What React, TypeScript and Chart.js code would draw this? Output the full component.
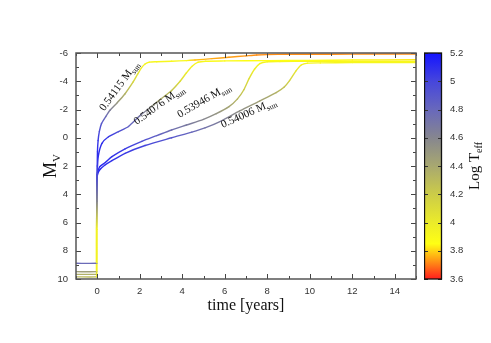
import React, { useEffect, useRef } from 'react';
import { Chart, registerables } from 'chart.js';
Chart.register(...registerables);

// ---- data: time [years], absolute magnitude M_V, log T_eff ----
// 0.54115 Msun
const c1Time = [-1, -0.03, -0.03, -0.03, -0.02, 0, 0.01, 0.04, 0.1, 0.2, 0.4, 0.6, 0.95, 1.3, 1.69, 1.9, 2.08, 2.25, 2.45, 2.8, 3.5, 4.2, 4.6, 5.4, 6.2, 7.0, 7.5, 8.5, 10, 12, 15];
const c1Mv = [8.89, 8.89, 8.85, 6.5, 4.5, 2.0, 1.0, 0.2, -0.45, -1.0, -1.5, -1.95, -2.5, -3.1, -3.95, -4.5, -4.95, -5.22, -5.35, -5.38, -5.42, -5.46, -5.5, -5.6, -5.7, -5.8, -5.86, -5.9, -5.91, -5.92, -5.93];
const c1Teff = [4.78, 4.78, 3.95, 3.95, 4.6, 5.05, 5.1, 5.05, 4.97, 4.9, 4.78, 4.65, 4.5, 4.35, 4.15, 4.05, 3.97, 3.93, 3.92, 3.92, 3.91, 3.9, 3.78, 3.75, 3.74, 3.73, 3.72, 3.72, 3.72, 3.72, 3.72];
// 0.54076 Msun
const c2Time = [-1, -0.03, -0.03, -0.03, -0.02, 0, 0.05, 0.22, 0.53, 1.0, 1.47, 2.0, 2.5, 3.0, 3.5, 3.9, 4.2, 4.45, 4.75, 5.1, 6, 8, 10, 12, 15];
const c2Mv = [9.48, 9.48, 9.44, 6.5, 4.5, 2.5, 1.3, 0.4, -0.07, -0.43, -0.8, -1.55, -2.15, -2.75, -3.35, -4.0, -4.6, -5.05, -5.35, -5.42, -5.44, -5.46, -5.48, -5.5, -5.53];
const c2Teff = [4.45, 4.45, 3.95, 3.95, 4.6, 5.05, 5.1, 5.1, 5.05, 4.95, 4.85, 4.7, 4.55, 4.4, 4.25, 4.1, 4.0, 3.95, 3.92, 3.9, 3.88, 3.86, 3.85, 3.84, 3.82];
// 0.53946 Msun
const c3Time = [-1, -0.03, -0.03, -0.03, -0.02, 0, 0.12, 0.38, 0.69, 1.31, 2.1, 2.8, 3.5, 4.2, 5.0, 5.6, 6.2, 6.6, 6.9, 7.15, 7.4, 7.65, 8.0, 8.6, 10, 12, 15];
const c3Mv = [9.67, 9.67, 9.63, 6.5, 4.5, 2.6, 2.05, 1.75, 1.34, 0.78, 0.25, -0.15, -0.55, -0.9, -1.3, -1.7, -2.2, -2.75, -3.4, -4.2, -4.85, -5.25, -5.38, -5.4, -5.41, -5.41, -5.42];
const c3Teff = [4.35, 4.35, 3.95, 3.95, 4.6, 5.1, 5.12, 5.1, 5.08, 5.05, 4.95, 4.85, 4.75, 4.68, 4.6, 4.52, 4.42, 4.32, 4.2, 4.08, 3.98, 3.93, 3.92, 3.91, 3.9, 3.9, 3.9];
// 0.54006 Msun
const c4Time = [-1, -0.03, -0.03, -0.03, -0.02, 0, 0.1, 0.35, 0.69, 1.31, 2.25, 3.5, 4.45, 5.07, 5.85, 6.7, 7.64, 8.42, 8.8, 9.05, 9.36, 9.6, 9.9, 10.5, 12, 15];
const c4Mv = [9.85, 9.85, 9.81, 6.5, 4.5, 2.7, 2.3, 1.95, 1.62, 1.1, 0.55, 0.0, -0.4, -0.7, -1.2, -1.9, -2.6, -3.2, -3.6, -4.05, -4.75, -5.15, -5.28, -5.3, -5.32, -5.33];
const c4Teff = [4.3, 4.3, 3.95, 3.95, 4.6, 5.1, 5.12, 5.1, 5.08, 5.05, 5.0, 4.9, 4.8, 4.72, 4.65, 4.55, 4.45, 4.35, 4.25, 4.15, 4.03, 3.96, 3.93, 3.92, 3.92, 3.92];

// curve labels (mass) with anchor in data coordinates and text angle
const labelMass = ['0.54115', '0.54076', '0.53946', '0.54006'];
const labelTime = [0.33, 1.86, 3.88, 5.9];
const labelMv = [-1.85, -0.9, -1.4, -0.69];
const labelAngle = [-54, -36, -30, -24];

// axes / ticks
const xMajorTicks = [0, 2, 4, 6, 8, 10, 12, 14];
const xMinorTicks = [-1, 1, 3, 5, 7, 9, 11, 13, 15];
const yMajorTicks = [-6, -4, -2, 0, 2, 4, 6, 8, 10];
const yMinorTicks = [-5, -3, -1, 1, 3, 5, 7, 9];
const cbTicks = [3.6, 3.8, 4.0, 4.2, 4.4, 4.6, 4.8, 5.0, 5.2];

// colour palette for log Teff
const palValues = [3.6, 3.74, 3.85, 4.0, 4.2, 4.4, 4.6, 4.8, 5.0, 5.2];
const palColors = ['#ff1e1e', '#ffa014', '#ffff14', '#ebeb2a', '#cccc48', '#a8a870', '#86868f', '#6868bc', '#4646dc', '#1414ff'];

function hexToRgb(h: string) {
  return [parseInt(h.slice(1, 3), 16), parseInt(h.slice(3, 5), 16), parseInt(h.slice(5, 7), 16)];
}
function teffColor(v: number) {
  if (v <= palValues[0]) return palColors[0];
  if (v >= palValues[palValues.length - 1]) return palColors[palColors.length - 1];
  let i = 0;
  while (v > palValues[i + 1]) i++;
  const f = (v - palValues[i]) / (palValues[i + 1] - palValues[i]);
  const a = hexToRgb(palColors[i]);
  const b = hexToRgb(palColors[i + 1]);
  const c = a.map((x, k) => Math.round(x + (b[k] - x) * f));
  return `rgb(${c[0]},${c[1]},${c[2]})`;
}

function segColor(teffs: number[]) {
  return (ctx: any) => {
    const a = teffs[ctx.p0DataIndex];
    const b = teffs[ctx.p1DataIndex];
    const p0 = ctx.p0;
    const p1 = ctx.p1;
    if (Math.abs(p0.x - p1.x) + Math.abs(p0.y - p1.y) < 0.5) return teffColor(b);
    const g = ctx.chart.ctx.createLinearGradient(p0.x, p0.y, p1.x, p1.y);
    g.addColorStop(0, teffColor(a));
    g.addColorStop(1, teffColor(b));
    return g;
  };
}

const SERIF = '"Liberation Serif", "Times New Roman", serif';
const SANS = '"Liberation Sans", Arial, sans-serif';

function drawSubText(ctx: CanvasRenderingContext2D, x: number, y: number, angle: number, main: string, sub: string, size: number, subSize: number, shift: number, center: boolean, color: string) {
  ctx.save();
  ctx.translate(x, y);
  ctx.rotate((angle * Math.PI) / 180);
  ctx.fillStyle = color;
  ctx.textBaseline = 'alphabetic';
  ctx.textAlign = 'left';
  ctx.font = `${size}px ${SERIF}`;
  const w1 = ctx.measureText(main).width;
  ctx.font = `${subSize}px ${SERIF}`;
  const w2 = ctx.measureText(sub).width;
  const x0 = center ? -(w1 + w2) / 2 : 0;
  ctx.font = `${size}px ${SERIF}`;
  ctx.fillText(main, x0, 0);
  ctx.font = `${subSize}px ${SERIF}`;
  ctx.fillText(sub, x0 + w1, shift);
  ctx.restore();
}

const mainDecor = {
  id: 'mainDecor',
  afterDraw(chart: any) {
    const { ctx, chartArea: a, scales } = chart;
    const x = scales.x;
    const y = scales.y;
    ctx.save();
    ctx.strokeStyle = '#444';
    ctx.lineWidth = 1;
    ctx.beginPath();
    const xt = (v: number, len: number) => {
      const px = Math.round(x.getPixelForValue(v)) + 0.5;
      ctx.moveTo(px, a.bottom); ctx.lineTo(px, a.bottom - len);
      ctx.moveTo(px, a.top); ctx.lineTo(px, a.top + len);
    };
    const yt = (v: number, len: number) => {
      const py = Math.round(y.getPixelForValue(v)) + 0.5;
      ctx.moveTo(a.left, py); ctx.lineTo(a.left + len, py);
      ctx.moveTo(a.right, py); ctx.lineTo(a.right - len, py);
    };
    xMajorTicks.forEach((v) => xt(v, 5));
    xMinorTicks.forEach((v) => xt(v, 3));
    yMajorTicks.forEach((v) => yt(v, 5));
    yMinorTicks.forEach((v) => yt(v, 3));
    ctx.stroke();
    ctx.lineWidth = 1.5;
    ctx.strokeStyle = '#555';
    ctx.strokeRect(a.left, a.top, a.right - a.left, a.bottom - a.top);

    // axis titles
    ctx.fillStyle = '#111';
    ctx.font = `16px ${SERIF}`;
    ctx.textAlign = 'center';
    ctx.textBaseline = 'alphabetic';
    ctx.fillText('time [years]', (a.left + a.right) / 2, 310);
    drawSubText(ctx, 56, (a.top + a.bottom) / 2, -90, 'M', 'V', 18, 11, 4, true, '#111');

    // curve labels
    labelMass.forEach((m, i) => {
      const px = x.getPixelForValue(labelTime[i]);
      const py = y.getPixelForValue(labelMv[i]);
      drawSubText(ctx, px, py, labelAngle[i], m + ' M', 'sun', 11, 8, 3, false, '#111');
    });
    ctx.restore();
  },
};

const cbDecor = {
  id: 'cbDecor',
  afterDraw(chart: any) {
    const { ctx, chartArea: a, scales } = chart;
    const y = scales.y;
    ctx.save();
    ctx.strokeStyle = '#333';
    ctx.lineWidth = 1;
    ctx.beginPath();
    cbTicks.forEach((v) => {
      const py = Math.round(y.getPixelForValue(v)) + 0.5;
      ctx.moveTo(a.left, py); ctx.lineTo(a.left + 4, py);
      ctx.moveTo(a.right, py); ctx.lineTo(a.right - 4, py);
    });
    ctx.stroke();
    ctx.strokeStyle = '#111';
    ctx.lineWidth = 1.3;
    ctx.strokeRect(a.left + 0.5, a.top, a.right - a.left - 1, a.bottom - a.top);
    drawSubText(ctx, 55, (a.top + a.bottom) / 2, -90, 'Log T', 'eff', 15, 10, 3, true, '#111');
    ctx.restore();
  },
};

export default function App() {
  const mainRef = useRef<HTMLCanvasElement | null>(null);
  const cbRef = useRef<HTMLCanvasElement | null>(null);

  useEffect(() => {
    const curves = [
      { t: c1Time, mv: c1Mv, teff: c1Teff },
      { t: c2Time, mv: c2Mv, teff: c2Teff },
      { t: c3Time, mv: c3Mv, teff: c3Teff },
      { t: c4Time, mv: c4Mv, teff: c4Teff },
    ];
    const main = new Chart(mainRef.current as HTMLCanvasElement, {
      type: 'line',
      data: {
        datasets: curves.map((c, i) => ({
          label: labelMass[i],
          data: c.t.map((t, j) => ({ x: t, y: c.mv[j] })),
          borderColor: teffColor(c.teff[0]),
          borderWidth: 1.4,
          borderCapStyle: 'round',
          borderJoinStyle: 'round',
          pointRadius: 0,
          tension: 0.25,
          fill: false,
          segment: { borderColor: segColor(c.teff) },
        })) as any,
      },
      options: {
        responsive: false,
        animation: false,
        devicePixelRatio: 1,
        layout: { padding: { top: 53, right: 75, left: 0, bottom: 0 } },
        plugins: { legend: { display: false }, tooltip: { enabled: false } },
        scales: {
          x: {
            type: 'linear',
            min: -1,
            max: 15,
            afterBuildTicks: (s: any) => { s.ticks = xMajorTicks.map((v) => ({ value: v })); },
            afterFit: (s: any) => { s.height = 64; },
            grid: { display: false, drawTicks: false },
            border: { display: false },
            ticks: { font: { family: SANS, size: 9.5 }, color: '#333', padding: 7, maxRotation: 0, autoSkip: false },
          },
          y: {
            type: 'linear',
            reverse: true,
            min: -6,
            max: 10,
            afterBuildTicks: (s: any) => { s.ticks = yMajorTicks.map((v) => ({ value: v })); },
            afterFit: (s: any) => { s.width = 76; },
            grid: { display: false, drawTicks: false },
            border: { display: false },
            ticks: { font: { family: SANS, size: 9.5 }, color: '#333', padding: 8, autoSkip: false },
          },
        },
      } as any,
      plugins: [mainDecor],
    });

    const cb = new Chart(cbRef.current as HTMLCanvasElement, {
      type: 'bar',
      data: {
        labels: ['Log Teff'],
        datasets: [
          {
            data: [[cbTicks[0], cbTicks[cbTicks.length - 1]]],
            barPercentage: 1,
            categoryPercentage: 1,
            borderWidth: 0,
            backgroundColor: (ctx: any) => {
              const ch = ctx.chart;
              const ys = ch.scales.y;
              if (!ys || !ch.chartArea) return 'rgba(0,0,0,0)';
              const g = ch.ctx.createLinearGradient(0, ys.getPixelForValue(palValues[0]), 0, ys.getPixelForValue(palValues[palValues.length - 1]));
              const lo = palValues[0];
              const span = palValues[palValues.length - 1] - lo;
              palValues.forEach((v, i) => g.addColorStop((v - lo) / span, palColors[i]));
              return g;
            },
          },
        ] as any,
      },
      options: {
        responsive: false,
        animation: false,
        devicePixelRatio: 1,
        layout: { padding: { top: 53, bottom: 64, left: 0, right: 0 } },
        plugins: { legend: { display: false }, tooltip: { enabled: false } },
        scales: {
          x: { display: false },
          y: {
            position: 'right',
            min: 3.6,
            max: 5.2,
            afterBuildTicks: (s: any) => { s.ticks = cbTicks.map((v) => ({ value: v })); },
            afterFit: (s: any) => { s.width = 49; },
            grid: { display: false, drawTicks: false },
            border: { display: false },
            ticks: {
              font: { family: SANS, size: 9.5 },
              color: '#333',
              padding: 8,
              autoSkip: false,
              callback: (v: any) => String(Number(Number(v).toFixed(1))),
            },
          },
        },
      } as any,
      plugins: [cbDecor],
    });

    return () => {
      main.destroy();
      cb.destroy();
    };
  }, []);

  return (
    <div style={{ position: 'absolute', left: 0, top: 0, width: 491, height: 343, background: '#fff' }}>
      <canvas ref={mainRef} width={491} height={343} style={{ position: 'absolute', left: 0, top: 0, width: 491, height: 343 }} />
      <canvas ref={cbRef} width={67} height={343} style={{ position: 'absolute', left: 424, top: 0, width: 67, height: 343 }} />
    </div>
  );
}
